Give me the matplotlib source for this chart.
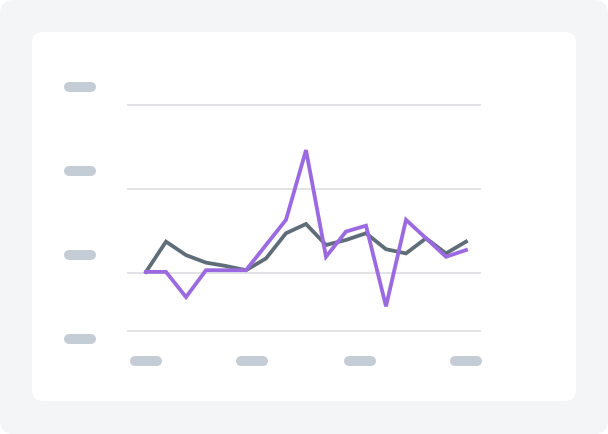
import matplotlib
matplotlib.use("Agg")
import matplotlib.pyplot as plt
from matplotlib.patches import FancyBboxPatch
from matplotlib.lines import Line2D

# ---- data ----
x_index = list(range(17))
series_gray = [10.1, 13.7, 12.1, 11.2, 10.8, 10.3, 11.7, 14.7, 15.8, 13.3,
               13.9, 14.7, 12.8, 12.3, 14.1, 12.3, 13.7]
series_purple = [10.1, 10.1, 7.1, 10.3, 10.3, 10.3, 13.3, 16.3, 24.6, 11.9,
                 14.9, 15.6, 6.0, 16.3, 14.1, 11.9, 12.7]
grid_values = [3.1, 10, 20, 30]

W, H = 608, 434
fig = plt.figure(figsize=(W / 100, H / 100), dpi=100)
fig.patch.set_facecolor("white")

def px(x, y):
    """top-left pixel coords -> display coords"""
    return x, H - y

# outer rounded background
bg = FancyBboxPatch(px(0, H), W, H, boxstyle="round,pad=0,rounding_size=14",
                    transform=None, facecolor="#f4f5f7", edgecolor="none", zorder=0)
fig.add_artist(bg)
# white card
card = FancyBboxPatch(px(32, 401), 544, 369, boxstyle="round,pad=0,rounding_size=11",
                      transform=None, facecolor="white", edgecolor="none", zorder=1)
fig.add_artist(card)

# placeholder pills
pill_color = "#c4ccd6"
def pill(xl, xr, yc, h=10):
    r = h / 2
    x0, y0 = px(xl + r, yc)
    x1, _ = px(xr - r, yc)
    ln = Line2D([x0, x1], [y0, y0], transform=None, color=pill_color,
                linewidth=h * 72 / 100, solid_capstyle="round", zorder=2)
    fig.add_artist(ln)

for yc in [86.7, 170.8, 254.8, 339]:
    pill(64, 96, yc)
for xl in [130, 236, 344, 450]:
    pill(xl, xl + 32, 360.7)

# axes
left, right, top, bottom = 128, 480, 104.7, 330.7
ax = fig.add_axes([left / W, (H - bottom) / H, (right - left) / W, (bottom - top) / H])
ax.set_zorder(5)
ax.set_facecolor("none")
ax.set_xlim(-0.9, 16.7)
ax.set_ylim(3.1, 30)
for g in grid_values:
    ax.axhline(g, color="#dfe1e5", linewidth=1.3, clip_on=False, zorder=1)

lw = 3.8 * 72 / 100
ax.plot(x_index, series_gray, color="#5f6d78", linewidth=lw, solid_joinstyle="miter",
        zorder=3, clip_on=False)
ax.plot(x_index, series_purple, color="#9b6ae0", linewidth=lw, solid_joinstyle="miter",
        zorder=4, clip_on=False)

ax.set_xticks([])
ax.set_yticks([])
for s in ax.spines.values():
    s.set_visible(False)

fig.savefig("out.png", dpi=100, facecolor=fig.get_facecolor())
